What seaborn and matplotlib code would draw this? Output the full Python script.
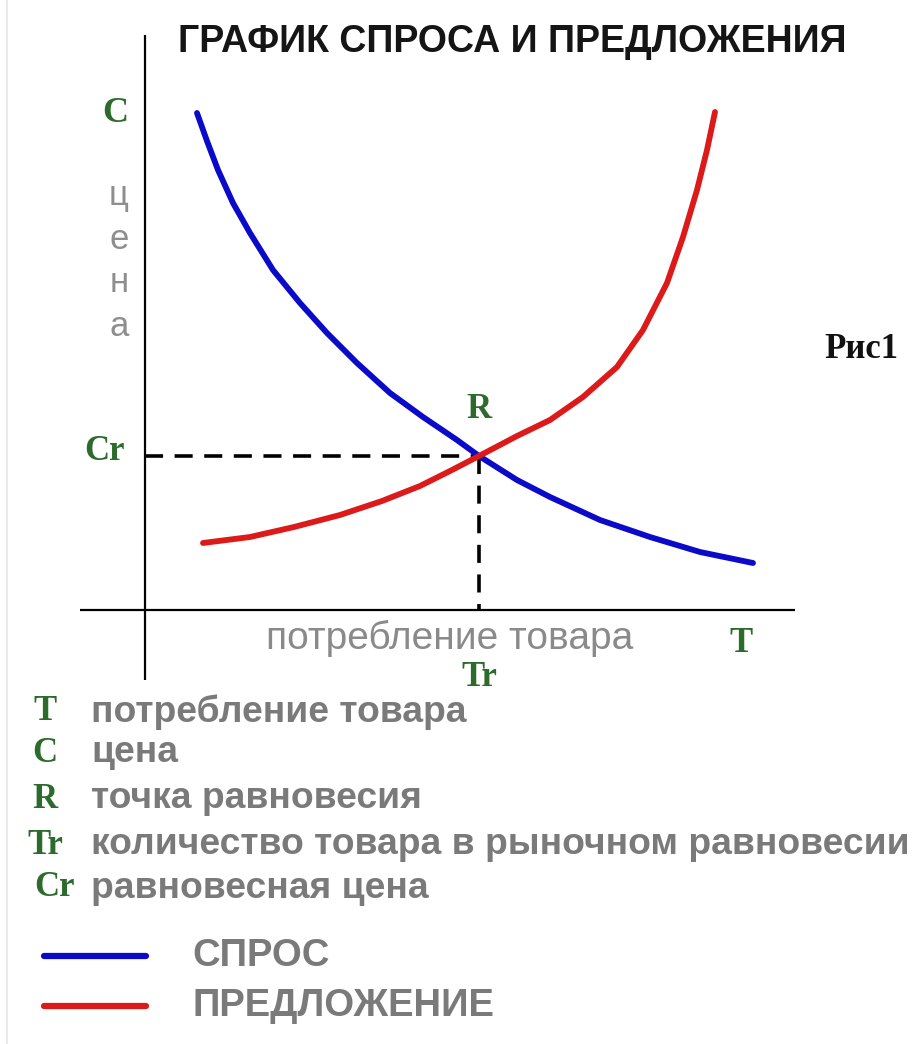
import numpy as np
import pandas as pd
import matplotlib
matplotlib.use("Agg")
import matplotlib.pyplot as plt
import seaborn as sns

# ---------------- data (arbitrary units) ----------------
demand_q = [0.52, 0.62, 0.73, 0.88, 1.05, 1.28, 1.55, 1.82, 2.12, 2.45,
            2.78, 3.12, 3.34, 3.72, 4.05, 4.55, 5.05, 5.55, 6.08]
demand_p = [4.97, 4.69, 4.40, 4.07, 3.77, 3.40, 3.07, 2.77, 2.47, 2.17,
            1.93, 1.70, 1.54, 1.30, 1.13, 0.90, 0.73, 0.58, 0.47]
supply_q = [0.58, 1.05, 1.49, 1.95, 2.37, 2.75, 3.05, 3.34, 3.72, 4.05,
            4.38, 4.72, 4.98, 5.22, 5.38, 5.52, 5.62, 5.70]
supply_p = [0.67, 0.73, 0.83, 0.95, 1.09, 1.24, 1.39, 1.54, 1.74, 1.90,
            2.13, 2.43, 2.80, 3.27, 3.73, 4.20, 4.60, 4.98]
eq_q, eq_p = 3.34, 1.54

title = "ГРАФИК СПРОСА И ПРЕДЛОЖЕНИЯ"
price_word = ["ц", "е", "н", "а"]
x_caption = "потребление товара"
glossary_keys = ["T", "C", "R", "Tr", "Cr"]
glossary_vals = ["потребление товара", "цена", "точка равновесия",
                 "количество товара в рыночном равновесии", "равновесная цена"]
series_names = ["СПРОС", "ПРЕДЛОЖЕНИЕ"]
series_colors = ["#0a0ac8", "#dc1a1a"]

# ---------------- figure ----------------
sns.set_theme(style="white")
plt.rcParams["font.family"] = ["Liberation Sans", "DejaVu Sans"]

W, H = 922, 1044
fig = plt.figure(figsize=(W / 100, H / 100), dpi=100)
ax = fig.add_axes([0, 0, 1, 1])
# origin of the diagram at pixel (145, 610); 100 px per unit
OX, OY, S = 145, 610, 100.0
ax.set_xlim(-OX / S, (W - OX) / S)
ax.set_ylim(-(H - OY) / S, OY / S)
ax.axis("off")


def P(px, py):
    return (px - OX) / S, (OY - py) / S


green = "#2c6b2c"
serif = ["Liberation Serif", "DejaVu Serif"]

# faint left frame line
ax.plot(*zip(P(7, 0), P(7, H)), color="#e6e6e6", lw=1.2)

# axes lines
ax.plot([0, 0], [P(0, 680)[1], P(0, 35)[1]], color="black", lw=1.6, solid_capstyle="butt")
ax.plot([P(80, 0)[0], P(795, 0)[0]], [0, 0], color="black", lw=1.6, solid_capstyle="butt")

# equilibrium guides
ax.plot([0, eq_q], [eq_p, eq_p], color="black", lw=2.6, ls=(0, (5, 3.2)))
ax.plot([eq_q, eq_q], [eq_p, 0], color="black", lw=2.6, ls=(0, (5, 3.2)))

# curves
df = pd.concat([
    pd.DataFrame({"q": demand_q, "p": demand_p, "s": series_names[0]}),
    pd.DataFrame({"q": supply_q, "p": supply_p, "s": series_names[1]}),
])
sns.lineplot(data=df, x="q", y="p", hue="s", palette=series_colors, sort=False,
             estimator=None, lw=4.2, legend=False, ax=ax,
             solid_capstyle="round", solid_joinstyle="round")

# title
ax.text(*P(512, 42), title, ha="center", va="center", fontsize=27,
        fontweight="bold", color="#151515")

# axis labels
ax.text(*P(115, 113), "C", ha="center", va="center", fontsize=26,
        fontweight="bold", color=green, family=serif)
for i, ch in enumerate(price_word):
    ax.text(*P(119, 196 + i * 43.5), ch, ha="center", va="center",
            fontsize=25, color="#8e8e8e")
ax.text(*P(861, 350), "Рис1", ha="center", va="center", fontsize=25,
        fontweight="bold", color="#111111", family=serif)
ax.text(eq_q, P(0, 410)[1], "R", ha="center", va="center", fontsize=25,
        fontweight="bold", color=green, family=serif)
ax.text(*P(104, 452), "Cr", ha="center", va="center", fontsize=25,
        fontweight="bold", color=green, family=serif)
ax.text(*P(450, 638), x_caption, ha="center", va="center", fontsize=28,
        color="#8a8a8a")
ax.text(*P(741, 643), "T", ha="center", va="center", fontsize=25,
        fontweight="bold", color=green, family=serif)
ax.text(eq_q, P(0, 677)[1], "Tr", ha="center", va="center", fontsize=25,
        fontweight="bold", color=green, family=serif)

# glossary
rows_y = [712, 753, 799, 845, 888]
keys_x = [45, 45, 45, 45, 54]
for k, v, yy, kx in zip(glossary_keys, glossary_vals, rows_y, keys_x):
    ax.text(*P(kx, yy), k, ha="center", va="center", fontsize=25,
            fontweight="bold", color=green, family=serif)
    ax.text(*P(91, yy), v, ha="left", va="center", fontsize=26.8,
            fontweight="bold", color="#7a7a7a")

# series legend
for name, col, yy in zip(series_names, series_colors, [956, 1006]):
    ax.plot([P(44, 0)[0], P(146, 0)[0]], [P(0, yy)[1]] * 2, color=col, lw=4.5,
            solid_capstyle="round")
    ax.text(*P(192, yy), name, ha="left", va="center", fontsize=27.5,
            fontweight="bold", color="#7a7a7a")

fig.savefig("out.png", dpi=100, facecolor="white")
